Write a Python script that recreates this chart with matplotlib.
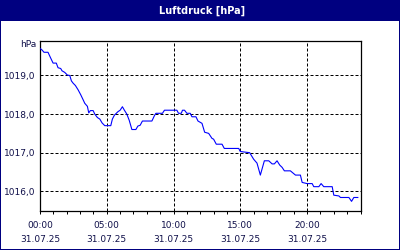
import matplotlib
matplotlib.use("Agg")
import matplotlib.pyplot as plt
from matplotlib.patches import Rectangle
from matplotlib.ticker import FixedLocator, FuncFormatter

# pressure readings for 31.07.25, time in hours since 00:00
hours = [0.0, 0.15, 0.3, 0.6, 0.8, 0.98, 1.22, 1.35, 1.55, 1.65, 1.85, 2.05,
         2.23, 2.35, 2.48, 2.65, 2.85, 3.05, 3.23, 3.35, 3.55, 3.65, 3.77,
         3.98, 4.1, 4.3, 4.48, 4.65, 4.85, 5.3, 5.42, 5.57, 5.83, 6.0, 6.17,
         6.32, 6.5, 6.68, 6.88, 7.18, 7.33, 7.5, 7.67, 8.38, 8.57, 8.68, 9.17,
         9.32, 10.25, 10.37, 10.58, 10.67, 10.82, 11.0, 11.25, 11.38, 11.68,
         11.83, 12.13, 12.33, 12.63, 12.88, 13.0, 13.2, 13.63, 13.8, 14.88,
         15.0, 15.7, 16.0, 16.25, 16.5, 16.8, 17.13, 17.38, 17.55, 17.75,
         17.95, 18.13, 18.3, 18.75, 19.13, 19.5, 19.63, 20.0, 20.38, 20.5,
         20.88, 21.05, 21.25, 21.88, 22.0, 22.38, 22.5, 23.13, 23.33, 23.5,
         23.8]
pressure = [1019.70, 1019.66, 1019.60, 1019.60, 1019.45, 1019.32, 1019.32,
            1019.20, 1019.18, 1019.12, 1019.08, 1019.01, 1019.00, 1018.86,
            1018.80, 1018.74, 1018.63, 1018.50, 1018.37, 1018.28, 1018.20,
            1018.03, 1018.09, 1018.09, 1018.00, 1017.91, 1017.87, 1017.77,
            1017.70, 1017.70, 1017.87, 1017.97, 1018.06, 1018.10, 1018.19,
            1018.10, 1018.00, 1017.84, 1017.60, 1017.60, 1017.69, 1017.71,
            1017.82, 1017.82, 1017.96, 1018.02, 1018.02, 1018.10, 1018.10,
            1018.02, 1018.02, 1018.10, 1018.10, 1018.02, 1018.02, 1017.93,
            1017.93, 1017.82, 1017.76, 1017.53, 1017.50, 1017.37, 1017.35,
            1017.22, 1017.22, 1017.11, 1017.11, 1017.03, 1017.00, 1016.83,
            1016.73, 1016.42, 1016.79, 1016.79, 1016.71, 1016.71, 1016.79,
            1016.68, 1016.62, 1016.53, 1016.53, 1016.42, 1016.42, 1016.23,
            1016.20, 1016.20, 1016.12, 1016.12, 1016.20, 1016.12, 1016.12,
            1015.90, 1015.88, 1015.84, 1015.84, 1015.74, 1015.84, 1015.84]

x_ticks = [0, 5, 10, 15, 20]
x_labels = ["00:00\n31.07.25", "05:00\n31.07.25", "10:00\n31.07.25",
            "15:00\n31.07.25", "20:00\n31.07.25"]
y_ticks = [1016, 1017, 1018, 1019]

navy = "#000080"
W, H = 400, 250

fig = plt.figure(figsize=(4, 2.5), dpi=100)
fig.patch.set_facecolor(navy)
# white panel below the title bar, leaves a 1px navy frame
fig.patches.append(Rectangle((1 / W, 1 / H), 398 / W, 228 / H,
                             transform=fig.transFigure, facecolor="white",
                             edgecolor="none", zorder=-10))
fig.text(202 / W, 1 - 10.5 / H, "Luftdruck [hPa]", color="white",
         fontsize=7, fontweight="bold", ha="center", va="center")

ax = fig.add_axes([40 / W, 1 - 211 / H, 320.5 / W, 170.3 / H])
ax.set_facecolor("white")
ax.plot(hours, pressure, color="#0000ff", lw=0.8, zorder=3)

ax.set_xlim(0, 24)
ax.set_ylim(1015.49, 1019.9)

ax.xaxis.set_major_locator(FixedLocator(x_ticks))
ax.xaxis.set_minor_locator(FixedLocator(range(0, 25)))
ax.set_xticklabels(x_labels, fontsize=6.5, linespacing=1.75)
ax.yaxis.set_major_locator(FixedLocator(y_ticks))
ax.yaxis.set_major_formatter(FuncFormatter(lambda v, _: f"{v:.1f}".replace(".", ",")))

ax.tick_params(axis="x", which="both", direction="out", length=2.2,
               width=0.72, color="black", pad=5, labelcolor="#10104a")
ax.tick_params(axis="y", length=0, pad=3, labelsize=6.5, labelcolor="#10104a")
ax.grid(True, which="major", color="black", lw=0.72, ls=(0, (3, 2)))
for sp in ax.spines.values():
    sp.set_linewidth(0.9)
    sp.set_color("black")

ax.text(-0.01, 0.975, "hPa", transform=ax.transAxes, ha="right", va="center",
        fontsize=6.5, color="#10104a")

fig.savefig("out.png", dpi=100, facecolor=navy)
